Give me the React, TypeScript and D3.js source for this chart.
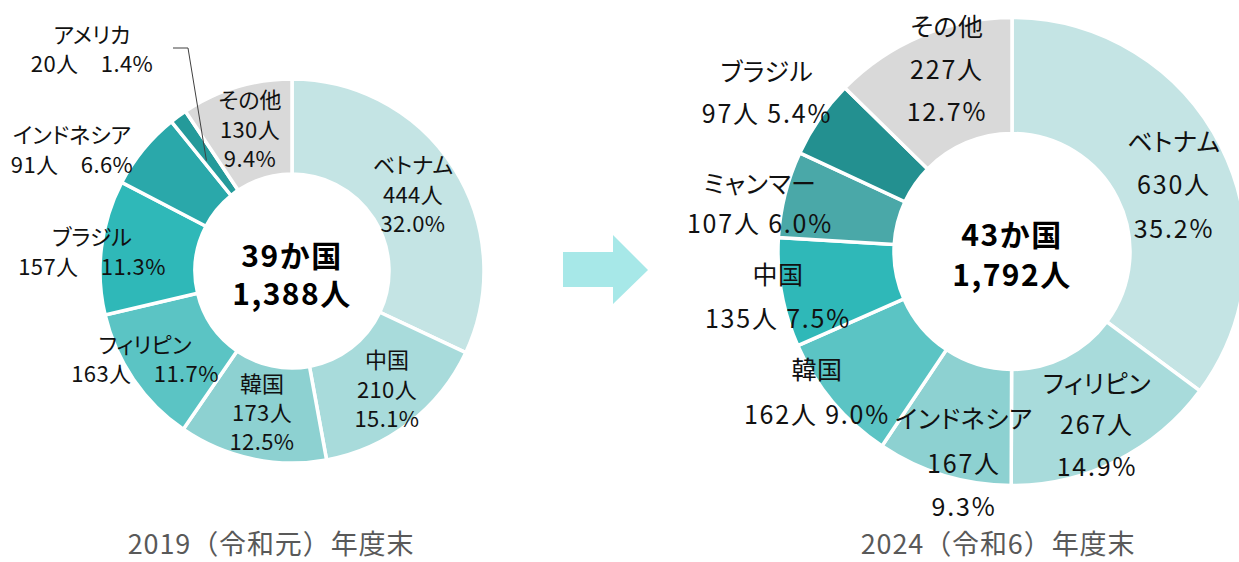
import React from "react";
import * as d3 from "d3";

// ---- data ----
const cats2019 = ["ベトナム", "中国", "韓国", "フィリピン", "ブラジル", "インドネシア", "アメリカ", "その他"];
const vals2019 = [444, 210, 173, 163, 157, 91, 20, 130];
const pct2019 = ["32.0%", "15.1%", "12.5%", "11.7%", "11.3%", "6.6%", "1.4%", "9.4%"];

const cats2024 = ["ベトナム", "フィリピン", "インドネシア", "韓国", "中国", "ミャンマー", "ブラジル", "その他"];
const vals2024 = [630, 267, 167, 162, 135, 107, 97, 227];
const pct2024 = ["35.2%", "14.9%", "9.3%", "9.0%", "7.5%", "6.0%", "5.4%", "12.7%"];

const centerTexts = [["39か国", "1,388人"], ["43か国", "1,792人"]];
const titles = ["2019（令和元）年度末", "2024（令和6）年度末"];

// ---- styles / layout ----
const colors2019 = ["#C4E4E4", "#A8DBDB", "#8DD1D1", "#5BC4C4", "#2FB8B8", "#2AA8AA", "#249A9A", "#D9D9D9"];
const colors2024 = ["#C4E4E4", "#A8DBDB", "#8DD1D1", "#5BC4C4", "#2FB8B8", "#4AA8A8", "#239090", "#D9D9D9"];

const FONT = "'Noto Sans CJK JP', 'Noto Sans', sans-serif";

const layout2019: { x: number; ys: number[]; mode: number }[] = [
  { x: 413, ys: [163, 193, 222], mode: 3 },
  { x: 387, ys: [358, 388, 417], mode: 3 },
  { x: 262, ys: [382, 411, 440], mode: 3 },
  { x: 145, ys: [343, 372], mode: 2 },
  { x: 92, ys: [235, 265], mode: 2 },
  { x: 72, ys: [133, 163], mode: 2 },
  { x: 92, ys: [33, 62], mode: 2 },
  { x: 250, ys: [98, 128, 157], mode: 3 },
];
const layout2024: { x: number; ys: number[]; mode: number }[] = [
  { x: 1174, ys: [140, 183, 227], mode: 3 },
  { x: 1097, ys: [382, 423, 465], mode: 3 },
  { x: 964, ys: [417, 462, 505], mode: 3 },
  { x: 817, ys: [368, 413], mode: 2 },
  { x: 778, ys: [273, 317], mode: 2 },
  { x: 760, ys: [182, 222], mode: 2 },
  { x: 767, ys: [70, 112], mode: 2 },
  { x: 947, ys: [25, 68, 110], mode: 3 },
];

type Donut = {
  cx: number; cy: number; ro: number; ri: number;
  cats: string[]; vals: number[]; pcts: string[]; colors: string[];
  layout: { x: number; ys: number[]; mode: number }[];
  fontSize: number; ls: number; nameLs: number; sep: string;
  center: string[]; centerYs: number[]; title: string; titleX: number;
};

const donuts: Donut[] = [
  {
    cx: 292, cy: 271, ro: 192, ri: 97,
    cats: cats2019, vals: vals2019, pcts: pct2019, colors: colors2019,
    layout: layout2019, fontSize: 22, ls: 0.4, nameLs: 0, sep: "　",
    center: centerTexts[0], centerYs: [254, 292], title: titles[0], titleX: 271,
  },
  {
    cx: 1012, cy: 251.5, ro: 234, ri: 118,
    cats: cats2024, vals: vals2024, pcts: pct2024, colors: colors2024,
    layout: layout2024, fontSize: 25, ls: 1.8, nameLs: 0.5, sep: " ",
    center: centerTexts[1], centerYs: [233, 273], title: titles[1], titleX: 998,
  },
];

function DonutChart({ d, idx }: { d: Donut; idx: number }) {
  const pie = d3.pie<number>().sort(null).value((v) => v);
  const arcs = pie(d.vals);
  const arc = d3.arc<d3.PieArcDatum<number>>().innerRadius(d.ri).outerRadius(d.ro);
  const mid = d3.arc<d3.PieArcDatum<number>>().innerRadius((d.ri + d.ro) / 2).outerRadius((d.ri + d.ro) / 2);

  let leader: React.ReactNode = null;
  if (idx === 0) {
    const i = d.cats.indexOf("アメリカ");
    const [mx, my] = mid.centroid(arcs[i]);
    const ex = d.cx + mx, ey = d.cy + my + 6;
    leader = (
      <polyline points={`173,48 188,48 ${ex},${ey}`} fill="none" stroke="#404040" strokeWidth={1} />
    );
  }

  return (
    <g>
      <g transform={`translate(${d.cx},${d.cy})`}>
        {arcs.map((a, i) => (
          <path key={i} d={arc(a) || ""} fill={d.colors[i]} stroke="#fff" strokeWidth={3.5} strokeLinejoin="miter" />
        ))}
      </g>
      {leader}
      {d.layout.map((l, i) => {
        const lines = l.mode === 3
          ? [d.cats[i], `${d.vals[i]}人`, d.pcts[i]]
          : [d.cats[i], `${d.vals[i]}人${d.sep}${d.pcts[i]}`];
        return (
          <g key={i}>
            {lines.map((t, j) => (
              <text key={j} x={l.x} y={l.ys[j]} textAnchor="middle" dominantBaseline="central"
                fontFamily={FONT} fontSize={d.fontSize} fill="#111"
                letterSpacing={j === 0 ? d.nameLs : d.ls}
                style={j === 0 ? { fontFeatureSettings: "'palt'" } : undefined}>
                {t}
              </text>
            ))}
          </g>
        );
      })}
      {d.center.map((t, j) => (
        <text key={j} x={d.cx} y={d.centerYs[j]} textAnchor="middle" dominantBaseline="central"
          fontFamily={FONT} fontSize={30} fontWeight="bold" fill="#000" letterSpacing={1.5}>
          {t}
        </text>
      ))}
      <text x={d.titleX} y={542} textAnchor="middle" dominantBaseline="central" fontFamily={FONT}
        fontSize={27} fill="#595959" letterSpacing={0.9}>
        {d.title}
      </text>
    </g>
  );
}

export default function App() {
  const arrow = d3.line()([
    [563, 252], [613, 252], [613, 235], [648, 270], [613, 304], [613, 287], [563, 287],
  ]) + "Z";
  return (
    <svg width={1239} height={562} style={{ position: "absolute", left: 0, top: 0, background: "#fff" }}>
      <rect width={1239} height={562} fill="#fff" />
      {donuts.map((d, i) => <DonutChart key={i} d={d} idx={i} />)}
      <path d={arrow} fill="#A7E8E8" />
    </svg>
  );
}
